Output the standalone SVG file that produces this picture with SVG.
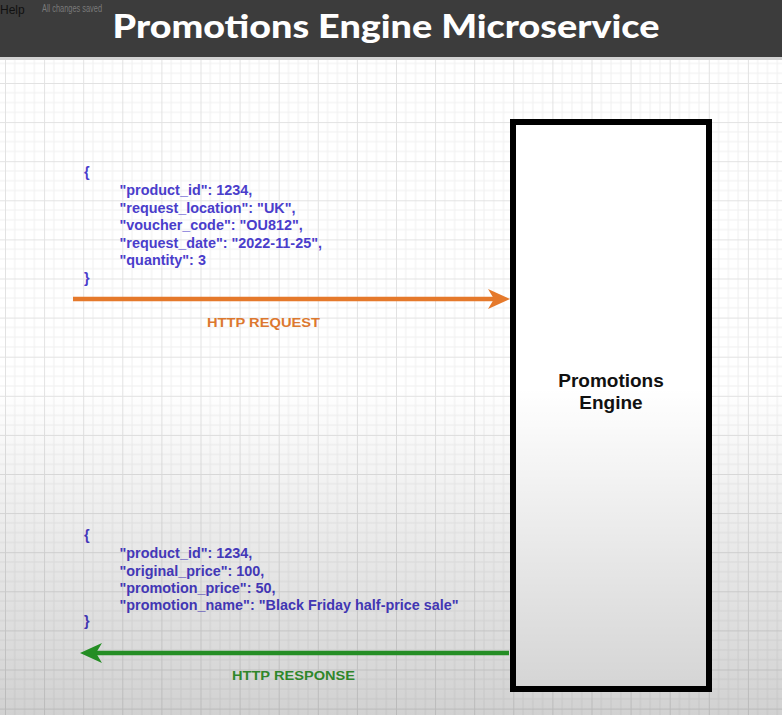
<svg xmlns="http://www.w3.org/2000/svg" width="782" height="715" viewBox="0 0 782 715">
  <defs>
    <style>
      .json { font-family: "Liberation Sans", Arial, sans-serif; font-weight: bold; font-size: 14.4px; fill: #4a3dcb; }
      .label { font-family: "Liberation Sans", Arial, sans-serif; font-weight: bold; font-size: 13px; text-anchor: middle; }
      .node-label { font-family: "Liberation Sans", Arial, sans-serif; font-weight: bold; font-size: 19px; fill: #111111; text-anchor: middle; }
      .minor { stroke: #efefef; stroke-width: 1; }
      .major { stroke: #e2e2e2; stroke-width: 1; }
    </style>
    <!-- canvas grid: major cells of 39.1px split into four minor cells -->
    <pattern id="grid" patternUnits="userSpaceOnUse" x="5" y="83" width="39.1" height="39.1">
      <line class="minor" x1="9.775" y1="0" x2="9.775" y2="39.1"/>
      <line class="minor" x1="19.55" y1="0" x2="19.55" y2="39.1"/>
      <line class="minor" x1="29.325" y1="0" x2="29.325" y2="39.1"/>
      <line class="minor" x1="0" y1="9.775" x2="39.1" y2="9.775"/>
      <line class="minor" x1="0" y1="19.55" x2="39.1" y2="19.55"/>
      <line class="minor" x1="0" y1="29.325" x2="39.1" y2="29.325"/>
      <line class="major" x1="0.5" y1="0" x2="0.5" y2="39.1"/>
      <line class="major" x1="0" y1="0.5" x2="39.1" y2="0.5"/>
    </pattern>
    <linearGradient id="shade" x1="0" y1="0" x2="0" y2="1">
      <stop offset="0" stop-color="#000" stop-opacity="0"/>
      <stop offset="0.5" stop-color="#000" stop-opacity="0"/>
      <stop offset="1" stop-color="#000" stop-opacity="0.18"/>
    </linearGradient>
    <marker id="head-orange" markerUnits="userSpaceOnUse" viewBox="0 0 22 20" refX="12" refY="10" markerWidth="22" markerHeight="20" orient="auto">
      <path d="M0,0 L22,10 L0,20 L6,10 Z" fill="#e5792b"/>
    </marker>
    <marker id="head-green" markerUnits="userSpaceOnUse" viewBox="0 0 22 20" refX="12" refY="10" markerWidth="22" markerHeight="20" orient="auto">
      <path d="M0,0 L22,10 L0,20 L6,10 Z" fill="#2aa52a"/>
    </marker>
  </defs>

  <!-- canvas -->
  <rect x="0" y="0" width="782" height="715" fill="#ffffff"/>
  <rect x="0" y="60" width="782" height="655" fill="url(#grid)"/>

  <!-- title bar -->
  <g id="title-bar">
    <rect x="0" y="0" width="782" height="57" fill="#3c3c3c"/>
    <rect x="0" y="57" width="782" height="3" fill="#d2d2d2"/>
    <text x="0" y="14" font-family="'Liberation Sans', Arial, sans-serif" font-size="12" fill="#111111">Help</text>
    <text x="42" y="12" font-family="'Liberation Sans', Arial, sans-serif" font-size="10" fill="#7a7a7a" textLength="60" lengthAdjust="spacingAndGlyphs">All changes saved</text>
    <text x="386" y="38" text-anchor="middle" font-family="Lato, 'Open Sans', sans-serif" font-weight="900" font-size="32" fill="#ffffff" textLength="547" lengthAdjust="spacingAndGlyphs">Promotions Engine Microservice</text>
  </g>

  <!-- service box -->
  <g id="promotions-engine">
    <rect x="513" y="122" width="196" height="567" fill="#ffffff" stroke="#000000" stroke-width="6"/>
    <text class="node-label" x="611" y="387">Promotions</text>
    <text class="node-label" x="611" y="409">Engine</text>
  </g>

  <!-- request payload -->
  <g id="request-payload" class="json">
    <text x="84" y="177">{</text>
    <text x="119.5" y="195">"product_id": 1234,</text>
    <text x="119.5" y="212.5">"request_location": "UK",</text>
    <text x="119.5" y="230">"voucher_code": "OU812",</text>
    <text x="119.5" y="247.5">"request_date": "2022-11-25",</text>
    <text x="119.5" y="265">"quantity": 3</text>
    <text x="84" y="283">}</text>
  </g>

  <!-- response payload -->
  <g id="response-payload" class="json">
    <text x="84" y="540">{</text>
    <text x="119.5" y="558">"product_id": 1234,</text>
    <text x="119.5" y="575.5">"original_price": 100,</text>
    <text x="119.5" y="593">"promotion_price": 50,</text>
    <text x="119.5" y="610">"promotion_name": "Black Friday half-price sale"</text>
    <text x="84" y="626">}</text>
  </g>

  <!-- connectors -->
  <g id="connectors">
    <line x1="73" y1="299" x2="500" y2="299" stroke="#e5792b" stroke-width="4.5" marker-end="url(#head-orange)"/>
    <text class="label" x="263.5" y="327" fill="#dc782f" textLength="113" lengthAdjust="spacingAndGlyphs">HTTP REQUEST</text>
    <line x1="509" y1="653" x2="90" y2="653" stroke="#2aa52a" stroke-width="4.5" marker-end="url(#head-green)"/>
    <text class="label" x="293.5" y="680" fill="#38a033" textLength="123" lengthAdjust="spacingAndGlyphs">HTTP RESPONSE</text>
  </g>

  <!-- darkening toward the lower edge -->
  <rect x="0" y="60" width="782" height="655" fill="url(#shade)"/>
</svg>
